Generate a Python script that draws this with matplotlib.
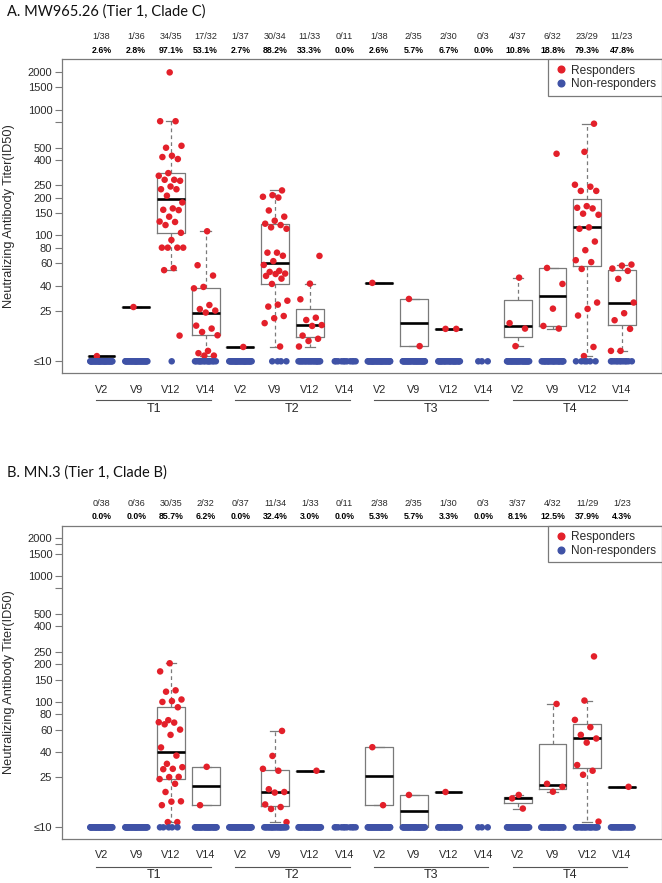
import numpy as np
import matplotlib
matplotlib.use('Agg')
import matplotlib.pyplot as plt
from matplotlib.lines import Line2D
import matplotlib.transforms as mtransforms

W, H, DPI = 662, 883, 100

timepoints = ['T1', 'T2', 'T3', 'T4']
visits = ['V2', 'V9', 'V12', 'V14']

ytick_vals = [10, 25, 40, 60, 80, 100, 150, 200, 250, 400, 500, 1000, 1500, 2000]
ytick_labels = ['\u226410', '25', '40', '60', '80', '100', '150', '200', '250',
                '400', '500', '1000', '1500', '2000']
yminor_A = [800]
yminor_B = [800, 1800]

# ---------------- Panel A ----------------
A_title = 'A. MW965.26 (Tier 1, Clade C)'
A_totals = [38, 36, 35, 32, 37, 34, 33, 11, 38, 35, 30, 3, 37, 32, 29, 23]
A_resp = [
    [11],
    [27],
    [1977, 809, 809, 498, 516, 430, 420, 405, 313, 298, 277, 277, 272, 245, 233, 233,
     207, 183, 164, 160, 159, 141, 129, 128, 121, 105, 92, 80, 80, 80, 80, 55, 53, 16],
    [108, 58, 48, 39, 38, 28, 26, 25.3, 24.4, 19.2, 18.2, 17.1, 16.1, 12.1, 11.6, 11.1, 11.1],
    [13],
    [228, 209, 203, 200, 158, 141, 131, 124, 121, 116, 113, 73, 73, 69, 62.5, 58.3, 52.3,
     51.3, 49.8, 49.4, 47.7, 45.4, 41.2, 30.3, 28.2, 27.2, 22.9, 22.0, 20.1, 13.1],
    [68.8, 41.4, 31.1, 22.2, 21.3, 19.4, 19.1, 16.0, 15.1, 14.5, 13.1],
    [],
    [42],
    [31.3, 13.2],
    [18.1, 18.1],
    [],
    [46.2, 20.1, 18.2, 13.2],
    [446, 55.2, 41.2, 26.2, 19.1, 18.2],
    [773, 462, 253, 244, 226, 226, 171, 166, 164, 149, 146, 116, 113, 89.5, 76.4, 63.6,
     61.4, 54.2, 29.3, 26.1, 23.1, 13.0, 11.0],
    [58.7, 57.6, 54.6, 52.3, 45.2, 29.3, 24.1, 21.2, 18.1, 12.1, 12.1],
]

# ---------------- Panel B ----------------
B_title = 'B. MN.3 (Tier 1, Clade B)'
B_totals = [38, 36, 35, 32, 37, 34, 33, 11, 38, 35, 30, 3, 37, 32, 29, 23]
B_resp = [
    [],
    [],
    [202, 174, 123, 120, 104, 101, 99.5, 90.2, 71.2, 68.6, 68.1, 66, 59.9, 54.4, 43.2, 37.2,
     32.0, 30.1, 29.2, 29.0, 25.2, 25.1, 24.2, 22.2, 19.1, 16.1, 16.0, 15.0, 11.0, 11.0],
    [30.3, 15.0],
    [],
    [58.5, 37.0, 29.2, 28.2, 20.1, 19.1, 18.9, 15.2, 14.5, 14.0, 11.0],
    [28.2],
    [],
    [43.4, 15.0],
    [18.1, 10.0],
    [19.1],
    [],
    [18.1, 17.0, 14.1],
    [95.9, 22.2, 21.0, 19.2],
    [229, 102, 71.6, 62.6, 54.4, 50.9, 47.2, 31.3, 28.2, 26.2, 11.1],
    [21.0],
]

NONRESP_VALUE = 10

RED = '#E3202A'
BLUE = '#3F52A6'
GRAY = '#7a7a7a'
TXT = '#2a2a2a'

plt.rcParams['font.family'] = ['Liberation Sans', 'DejaVu Sans']

fig = plt.figure(figsize=(W / DPI, H / DPI), dpi=DPI)


def fy(px):
    return 1 - px / H


def fivenum(x):
    x = np.sort(np.asarray(x, dtype=float))
    n = len(x)
    n4 = np.floor((n + 3) / 2) / 2
    d = np.array([1, n4, (n + 1) / 2, n + 1 - n4, n])
    return 0.5 * (x[np.floor(d - 1).astype(int)] + x[np.ceil(d - 1).astype(int)])


def jitter(n, amp, phase):
    i = np.arange(n)
    return ((i * 0.6180339887 + phase) % 1.0 - 0.5) * 2 * amp


def panel(top_px, bottom_px, title, title_px, totals, resp, minor):
    ax = fig.add_axes([62 / W, fy(bottom_px), 599.5 / W, (bottom_px - top_px) / H])
    ax.set_yscale('log')
    ax.set_xlim(-0.14, 17.14)
    ax.set_ylim(10 ** 0.907, 10 ** 3.400)
    for s in ax.spines.values():
        s.set_color(GRAY)
        s.set_linewidth(0.9)
    ax.set_yticks(ytick_vals + minor)
    ax.set_yticklabels(ytick_labels + [''] * len(minor))
    ax.yaxis.set_minor_locator(matplotlib.ticker.NullLocator())
    ax.tick_params(axis='y', length=5, width=0.8, color=GRAY, labelsize=8,
                   labelcolor=TXT, pad=2)
    ax.set_xticks([])

    positions = np.arange(1, 17)
    for k, (pos, vals, tot) in enumerate(zip(positions, resp, totals)):
        nres = len(vals)
        nnon = tot - nres
        if nres > 0:
            lv = np.log10(vals)
            f = fivenum(lv)
            iqr = f[3] - f[1]
            lo = f[1] - 1.5 * iqr
            hi = f[3] + 1.5 * iqr
            wl = lv[lv >= lo].min()
            wh = lv[lv <= hi].max()
            st = dict(med=10 ** f[2], q1=10 ** f[1], q3=10 ** f[3],
                      whislo=10 ** wl, whishi=10 ** wh, fliers=[])
            ax.bxp([st], positions=[pos], widths=0.8, capwidths=0.3, showfliers=False,
                   boxprops=dict(color=GRAY, linewidth=0.9),
                   whiskerprops=dict(color=GRAY, linewidth=0.9, linestyle=(0, (3, 2.5))),
                   capprops=dict(color=GRAY, linewidth=0.9),
                   medianprops=dict(color='black', linewidth=1.9),
                   manage_ticks=False, zorder=2)
            amp = 0.36 if nres > 3 else 0.25
            ax.scatter(pos + jitter(nres, amp, 0.23 + 0.11 * k), vals, s=22, color=RED,
                       edgecolors='none', zorder=3, clip_on=False)
        if nnon > 0:
            amp = 0.33 if nnon > 3 else 0.22
            ax.scatter(pos + jitter(nnon, amp, 0.41 + 0.07 * k),
                       [NONRESP_VALUE] * nnon, s=22, color=BLUE,
                       edgecolors='none', zorder=4, clip_on=False)

    # header counts / percents
    bt = mtransforms.blended_transform_factory(ax.transData, fig.transFigure)
    for pos, vals, tot in zip(positions, resp, totals):
        n = len(vals)
        ax.text(pos, fy(top_px - 22.5), f'{n}/{tot}', transform=bt, ha='center',
                va='center', fontsize=6.6, color=TXT)
        ax.text(pos, fy(top_px - 8.8), f'{100 * n / tot:.1f}%', transform=bt,
                ha='center', va='center', fontsize=6.3, color='black',
                fontweight='bold')

    # x labels and group lines
    for g, tp in enumerate(timepoints):
        for j, v in enumerate(visits):
            pos = positions[4 * g + j]
            ax.text(pos, fy(bottom_px + 16.5), v, transform=bt, ha='center',
                    va='center', fontsize=7.8, color=TXT)
        x0 = positions[4 * g] - 0.15
        x1 = positions[4 * g + 3] + 0.15
        ax.add_line(Line2D([x0, x1], [fy(bottom_px + 27.5)] * 2, transform=bt,
                           color='#555555', linewidth=0.8, clip_on=False))
        ax.text((x0 + x1) / 2, fy(bottom_px + 36.5), tp, transform=bt, ha='center',
                va='center', fontsize=9.0, color=TXT)

    fig.text(9.5 / W, fy((top_px + bottom_px) / 2), 'Neutralizing Antibody Titer(ID50)',
             rotation=90, ha='center', va='center', fontsize=9.2, color=TXT)
    fig.text(7 / W, fy(title_px), title, ha='left', va='center', fontsize=10.5,
             color='#111111', family=['Lato', 'DejaVu Sans'])

    handles = [Line2D([], [], marker='o', ls='', color=RED, markersize=4.8),
               Line2D([], [], marker='o', ls='', color=BLUE, markersize=4.8)]
    leg = ax.legend(handles, ['Responders', 'Non-responders'], loc='upper right',
                    bbox_to_anchor=(1, 1), borderaxespad=0, fancybox=False,
                    fontsize=8.6, handletextpad=0.2, handlelength=1.3,
                    labelspacing=0.15, borderpad=0.45, framealpha=1)
    leg.get_frame().set_edgecolor(GRAY)
    leg.get_frame().set_linewidth(0.9)
    for t in leg.get_texts():
        t.set_color(TXT)
    return ax


panel(59.3, 373.0, A_title, 12, A_totals, A_resp, yminor_A)
panel(525.7, 839.0, B_title, 473, B_totals, B_resp, yminor_B)

fig.savefig('out.png', dpi=DPI)
